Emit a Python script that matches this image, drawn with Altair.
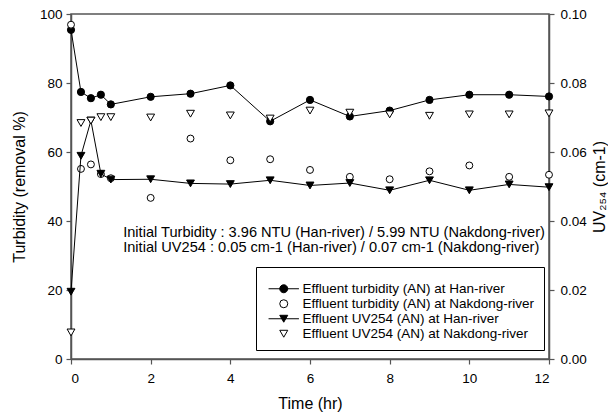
import altair as alt
import pandas as pd

# ---- data ----
time_hr = [0, 0.25, 0.5, 0.75, 1, 2, 3, 4, 5, 6, 7, 8, 9, 10, 11, 12]
han_turb = [95.4, 77.4, 75.6, 76.6, 73.8, 76.0, 76.9, 79.3, 68.9, 75.1, 70.3, 72.0, 75.1, 76.6, 76.6, 76.1]
nak_turb = [96.9, 55.1, 56.4, 53.6, 52.4, 46.7, 63.9, 57.6, 57.9, 54.8, 52.8, 52.1, 54.4, 56.1, 52.8, 53.4]
han_uv = [0.0195, 0.0589, 0.0691, 0.0537, 0.0520, 0.0521, 0.0509, 0.0507, 0.0518, 0.0503, 0.0510, 0.0489, 0.0518, 0.0489, 0.0506, 0.0498]
nak_uv = [0.0077, 0.0684, 0.0691, 0.0701, 0.0701, 0.0700, 0.0711, 0.0706, 0.0697, 0.0720, 0.0714, 0.0709, 0.0705, 0.0709, 0.0709, 0.0712]

series_names = [
    "Effluent turbidity (AN) at Han-river",
    "Effluent turbidity (AN) at Nakdong-river",
    "Effluent UV254 (AN) at Han-river",
    "Effluent UV254 (AN) at Nakdong-river",
]
x_ticks = [0, 2, 4, 6, 8, 10, 12]
left_ticks = [0, 20, 40, 60, 80, 100]
right_ticks = [0, 0.02, 0.04, 0.06, 0.08, 0.10]

ann_text = [
    "Initial Turbidity : 3.96 NTU (Han-river) / 5.99 NTU (Nakdong-river)",
    "Initial UV254 : 0.05 cm-1 (Han-river) / 0.07 cm-1 (Nakdong-river)",
]
ann_x = [1.31, 1.31]
ann_y = [36.6, 32.3]

FONT = "Liberation Sans"
FRAME = "#555555"

turb_df = pd.DataFrame(
    {"time": time_hr * 2, "value": han_turb + nak_turb,
     "series": [series_names[0]] * len(time_hr) + [series_names[1]] * len(time_hr)}
)
uv_df = pd.DataFrame(
    {"time": time_hr * 2, "value": han_uv + nak_uv,
     "series": [series_names[2]] * len(time_hr) + [series_names[3]] * len(time_hr)}
)
ann_df = pd.DataFrame({"x": ann_x, "y": ann_y, "text": ann_text})

x_axis = alt.Axis(values=x_ticks, title="Time (hr)", labelPadding=7, titlePadding=11)
left_axis = alt.Axis(values=left_ticks, title="Turbidity (removal %)", orient="left",
                     labelPadding=4, titlePadding=12)
right_axis = alt.Axis(values=right_ticks, format=".2f", title="UV₂₅₄ (cm-1)", orient="right",
                      labelPadding=6, titlePadding=5, titleAngle=270, titleBaseline="top")

X = alt.X("time:Q", scale=alt.Scale(domain=[0, 12], nice=False), axis=x_axis)
Y_left = alt.Y("value:Q", scale=alt.Scale(domain=[0, 100], nice=False), axis=left_axis)
Y_right = alt.Y("value:Q", scale=alt.Scale(domain=[0, 0.1], nice=False), axis=right_axis)

legend = alt.Legend(
    title=" ", titleFontSize=1, titlePadding=5,
    orient="none", legendX=185, legendY=253,
    strokeColor="black", fillColor="white", padding=9,
    symbolOffset=12, labelOffset=12, rowPadding=0,
    symbolSize=64, symbolStrokeWidth=1, symbolStrokeColor="black",
    labelFont=FONT, labelFontSize=13.5, labelColor="black", labelLimit=400,
)
legend_shapes = [
    "M-3.8,0H3.8M-1,0A1,1,0,1,1,1,0A1,1,0,1,1,-1,0Z",
    "circle",
    "M-3.8,0H3.8M0,0.866L-1,-0.866L1,-0.866Z",
    "triangle-down",
]
legend_fills = ["black", "white", "black", "white"]
legend_strokes = ["black", "black", "black", "black"]


def pts(df, name, shape, fill, size):
    return alt.Chart(df).transform_filter(alt.datum.series == name).mark_point(
        shape=shape, filled=True, fill=fill, stroke="black", strokeWidth=1, size=size, opacity=1
    )


turb_line = alt.Chart(turb_df).transform_filter(alt.datum.series == series_names[0]).mark_line(
    color="black", strokeWidth=1).encode(x=X, y=Y_left)
turb_han = pts(turb_df, series_names[0], "circle", "black", 52).encode(x=X, y=Y_left)
turb_nak = pts(turb_df, series_names[1], "circle", "white", 48).encode(x=X, y=Y_left)
ann = alt.Chart(ann_df).mark_text(align="left", baseline="middle", font=FONT,
                                  fontSize=14.6, color="black").encode(
    x=alt.X("x:Q", scale=alt.Scale(domain=[0, 12], nice=False), axis=x_axis),
    y=alt.Y("y:Q", scale=alt.Scale(domain=[0, 100], nice=False), axis=left_axis),
    text="text:N")
legend_layer = alt.Chart(turb_df).transform_filter("false").mark_point(
    filled=True, stroke="black", strokeWidth=1, size=64, opacity=1).encode(
    x=X, y=Y_left,
    shape=alt.Shape("series:N", scale=alt.Scale(domain=series_names, range=legend_shapes), legend=legend),
    fill=alt.Fill("series:N", scale=alt.Scale(domain=series_names, range=legend_fills), legend=legend),
    stroke=alt.Stroke("series:N", scale=alt.Scale(domain=series_names, range=legend_strokes), legend=legend),
)

uv_line = alt.Chart(uv_df).transform_filter(alt.datum.series == series_names[2]).mark_line(
    color="black", strokeWidth=1).encode(x=X, y=Y_right)
uv_han = pts(uv_df, series_names[2], "triangle-down", "black", 62).encode(x=X, y=Y_right)
uv_nak = pts(uv_df, series_names[3], "triangle-down", "white", 62).encode(x=X, y=Y_right)

left = alt.layer(turb_line, turb_han, turb_nak, ann, legend_layer)
right = alt.layer(uv_line, uv_han, uv_nak)

chart = alt.layer(left, right).resolve_scale(y="independent").properties(
    width=478, height=345,
    autosize=alt.AutoSizeParams(type="none"),
    padding={"left": 63, "top": 6, "right": 59, "bottom": 53},
).configure_axis(
    labelFont=FONT, titleFont=FONT, labelFontSize=13.5, titleFontSize=16,
    labelColor="black", titleColor="black", titleFontWeight="normal",
    domainColor=FRAME, tickColor=FRAME, domainWidth=1.5, tickWidth=1.2,
    tickSize=5, grid=False,
).configure_view(stroke=FRAME, strokeWidth=1.5)

chart.save("out.html", embed_options={"renderer": "svg", "actions": False})
